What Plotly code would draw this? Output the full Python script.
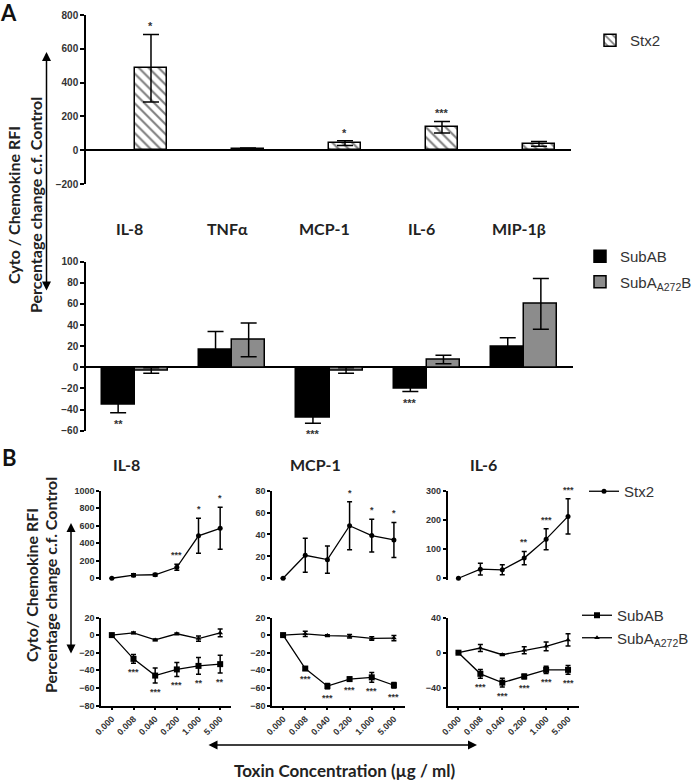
import plotly.graph_objects as go

# ---------------- data ----------------
cytokines = ["IL-8", "TNFα", "MCP-1", "IL-6", "MIP-1β"]
stx2_bar = [485, 8, 42, 136, 38]
stx2_bar_err = [200, 5, 14, 34, 14]
stx2_bar_sig = ["*", "", "*", "***", ""]
subab_bar = [-35, 17, -48, -20, 20]
subab_bar_err = [8, 17, 5, 3, 8]
subab_bar_sig = ["**", "", "***", "***", ""]
a272_bar = [-3, 26, -3, 7.5, 60]
a272_bar_err = [2.5, 16, 2.5, 4, 24]

conc_labels = ["0.000", "0.008", "0.040", "0.200", "1.000", "5.000"]
b_titles = ["IL-8", "MCP-1", "IL-6"]
stx2_line = [
    [0, 35, 40, 125, 485, 570],
    [0, 21, 17, 48, 39, 35],
    [0, 31, 29, 69, 134, 212],
]
stx2_line_err = [
    [0, 15, 15, 35, 200, 240],
    [0, 15.5, 12.5, 22, 15, 16],
    [0, 20, 17, 23, 36, 60],
]
stx2_line_sig = [
    ["", "", "", "***", "*", "*"],
    ["", "", "", "*", "*", "*"],
    ["", "", "", "**", "***", "***"],
]
subab_line = [
    [0, -27, -46, -39, -35, -33],
    [0, -38, -58, -50, -48, -57],
    [0, -24, -34, -27, -19.5, -19.5],
]
subab_line_err = [
    [0, 5, 8.5, 8, 9.5, 10],
    [0, 2, 3, 2, 5.5, 3],
    [0, 5, 5, 2.5, 4, 5],
]
subab_line_sig = [
    ["", "***", "***", "***", "**", "**"],
    ["", "***", "***", "***", "***", "***"],
    ["", "***", "***", "***", "***", "***"],
]
a272_line = [
    [0, 2.5, -5.5, 1.5, -4, 2.5],
    [0, 1.5, -0.5, -1.2, -3.8, -3.4],
    [0, 5.3, -2.3, 2.7, 7.2, 14.5],
]
a272_line_err = [
    [0, 1, 1, 1, 3, 4.5],
    [0, 3, 1, 2, 2, 3],
    [0, 4, 1, 4, 5, 7],
]
b_top_ticks = [[0, 200, 400, 600, 800, 1000], [0, 20, 40, 60, 80], [0, 100, 200, 300]]
b_bot_ticks = [[20, 0, -20, -40, -60, -80], [20, 0, -20, -40, -60, -80], [40, 0, -40]]
b_bot_range = [[-80, 20], [-80, 20], [-60, 40]]

# ---------------- layout helpers ----------------
W, H = 696, 782
def px(x):
    return x / W
def py(y):
    return 1 - y / H

TICKFONT = dict(family="Liberation Sans, Arial", size=10, color="#333", weight="bold")
TICKFONT_B = dict(family="Liberation Sans, Arial", size=9, color="#333", weight="bold")
TITLEFONT = dict(family="Lato, Calibri, sans-serif", size=16, color="#222", weight="bold")
LEGFONT = dict(family="Liberation Sans, Arial", size=15, color="#333")
STARFONT = dict(family="Liberation Sans, Arial", size=11, color="#333", weight="bold")
STARFONT_B = dict(family="Liberation Sans, Arial", size=9, color="#333", weight="bold")

def label(x, y, text, font, **kw):
    d = dict(x=px(x), y=py(y), xref="paper", yref="paper", text=text, showarrow=False,
             xanchor="center", yanchor="middle", font=font)
    d.update(kw)
    return d

fig = go.Figure()
ann = []

# ---------------- Panel A bars ----------------
fig.add_trace(go.Bar(
    x=cytokines, y=stx2_bar, offset=0, width=0.34,
    marker=dict(color="white", line=dict(color="black", width=1.5),
                pattern=dict(shape="\\", fgcolor="black", bgcolor="white", size=7, solidity=0.3)),
    error_y=dict(type="data", array=stx2_bar_err, color="black", thickness=1.5, width=8),
    name="Stx2", xaxis="x", yaxis="y", legend="legend"))

fig.add_trace(go.Bar(
    x=cytokines, y=subab_bar, offset=-0.34, width=0.34,
    marker=dict(color="black", line=dict(color="black", width=1.5)),
    error_y=dict(type="data", array=subab_bar_err, color="black", thickness=1.5, width=8),
    name="SubAB", xaxis="x2", yaxis="y2", legend="legend2", legendgroup="g1"))
fig.add_trace(go.Bar(
    x=cytokines, y=a272_bar, offset=0, width=0.34,
    marker=dict(color="#8c8c8c", line=dict(color="black", width=1.5)),
    error_y=dict(type="data", array=a272_bar_err, color="black", thickness=1.5, width=8),
    name="SubA<sub>A272</sub>B", xaxis="x2", yaxis="y2", legend="legend2", legendgroup="g2"))

for i, c in enumerate(cytokines):
    if stx2_bar_sig[i]:
        ann.append(dict(x=i + 0.17, y=stx2_bar[i] + stx2_bar_err[i], xref="x", yref="y",
                        text=stx2_bar_sig[i], showarrow=False, xanchor="center",
                        yanchor="bottom", yshift=0, font=STARFONT))
    if subab_bar_sig[i]:
        ann.append(dict(x=i - 0.17, y=subab_bar[i] - subab_bar_err[i], xref="x2", yref="y2",
                        text=subab_bar_sig[i], showarrow=False, xanchor="center",
                        yanchor="top", yshift=-3, font=STARFONT))
    ann.append(dict(x=i, y=py(228), xref="x2", yref="paper", text=c, showarrow=False,
                    xanchor="center", yanchor="middle", xshift=-5, font=TITLEFONT))

axis_common = dict(showgrid=False, showline=True, linecolor="black", linewidth=1.5,
                   ticks="outside", tickcolor="black", tickwidth=1.5)

layout = dict(
    width=W, height=H, autosize=False,
    margin=dict(l=0, r=0, t=0, b=0, autoexpand=False),
    paper_bgcolor="white", plot_bgcolor="white",
    bargap=0, showlegend=True,
    xaxis=dict(domain=[px(86), px(571)], anchor="y", type="category", range=[-0.5, 4.5],
               visible=False),
    yaxis=dict(domain=[py(184), py(15)], anchor="x", range=[-200, 800],
               tickvals=[-200, 0, 200, 400, 600, 800], ticklen=4, tickfont=TICKFONT,
               zeroline=True, zerolinecolor="black", zerolinewidth=1.5, **axis_common),
    xaxis2=dict(domain=[px(86), px(573)], anchor="y2", type="category", range=[-0.5, 4.5],
                visible=False),
    yaxis2=dict(domain=[py(430.7), py(261.7)], anchor="x2", range=[-60, 100],
                tickvals=[-60, -40, -20, 0, 20, 40, 60, 80, 100], ticklen=4, tickfont=TICKFONT,
                zeroline=True, zerolinecolor="black", zerolinewidth=1.5, **axis_common),
)

# ---------------- Panel B lines ----------------
col_dom = [(101, 231), (272, 405), (447.5, 579)]
for k in range(3):
    xt = "x%d" % (3 + k)
    yt = "y%d" % (3 + k)
    xb = "x%d" % (6 + k)
    yb = "y%d" % (6 + k)
    mx = max(b_top_ticks[k])
    layout["xaxis%d" % (3 + k)] = dict(domain=[px(col_dom[k][0]), px(col_dom[k][1])], anchor=yt,
                                     type="category", range=[-0.5, 5.5], visible=False)
    layout["yaxis%d" % (3 + k)] = dict(domain=[py(580), py(490.7)], anchor=xt,
                                     range=[-0.02 * mx, mx], tickvals=b_top_ticks[k], ticklen=3,
                                     tickfont=TICKFONT_B, zeroline=False, **axis_common)
    layout["xaxis%d" % (6 + k)] = dict(domain=[px(col_dom[k][0]), px(col_dom[k][1])], anchor=yb,
                                     type="category", range=[-0.5, 5.5], tickangle=-45,
                                     ticklen=3, tickfont=TICKFONT_B, **axis_common)
    layout["yaxis%d" % (6 + k)] = dict(domain=[py(705.5), py(617.5)], anchor=xb,
                                     range=b_bot_range[k], tickvals=b_bot_ticks[k], ticklen=3,
                                     tickfont=TICKFONT_B, zeroline=False, **axis_common)

    fig.add_trace(go.Scatter(
        x=conc_labels, y=stx2_line[k], mode="lines+markers", cliponaxis=False,
        line=dict(color="black", width=1.3), marker=dict(symbol="circle", size=5, color="black"),
        error_y=dict(type="data", array=stx2_line_err[k], color="black", thickness=1.5, width=2.5),
        name="Stx2", xaxis=xt, yaxis=yt, legend="legend3", showlegend=(k == 0)))
    fig.add_trace(go.Scatter(
        x=conc_labels, y=subab_line[k], mode="lines+markers", cliponaxis=False,
        line=dict(color="black", width=1.3), marker=dict(symbol="square", size=6, color="black"),
        error_y=dict(type="data", array=subab_line_err[k], color="black", thickness=1.5, width=2.5),
        name="SubAB", xaxis=xb, yaxis=yb, legend="legend4", showlegend=(k == 0)))
    fig.add_trace(go.Scatter(
        x=conc_labels, y=a272_line[k], mode="lines+markers", cliponaxis=False,
        line=dict(color="black", width=1.3), marker=dict(symbol="triangle-up", size=5, color="black"),
        error_y=dict(type="data", array=a272_line_err[k], color="black", thickness=1.5, width=2.5),
        name="SubA<sub>A272</sub>B", xaxis=xb, yaxis=yb, legend="legend4", showlegend=(k == 0)))

    for i, c in enumerate(conc_labels):
        if stx2_line_sig[k][i]:
            ann.append(dict(x=i, y=stx2_line[k][i] + stx2_line_err[k][i], xref=xt, yref=yt,
                            text=stx2_line_sig[k][i], showarrow=False, xanchor="center",
                            yanchor="bottom", yshift=2, font=STARFONT_B))
        if subab_line_sig[k][i]:
            ann.append(dict(x=i, y=subab_line[k][i] - subab_line_err[k][i], xref=xb, yref=yb,
                            text=subab_line_sig[k][i], showarrow=False, xanchor="center",
                            yanchor="top", yshift=-2, font=STARFONT_B))

for t, xx in zip(b_titles, [126, 315, 483]):
    ann.append(label(xx, 464, t, TITLEFONT))

# panel letters
LETTERFONT = dict(family="Lato, Calibri, sans-serif", size=22, color="#111", weight="bold")
ann.append(label(8, 12, "A", LETTERFONT))
ann.append(label(9, 457, "B", LETTERFONT))

# y titles
for (x1, x2, yc, txt1) in [(13, 35, 205, "Cyto / Chemokine RFI"), (31, 50, 585, "Cyto/ Chemokine RFI")]:
    ann.append(label(x1, yc, txt1, TITLEFONT, textangle=-90))
    ann.append(label(x2, yc, "Percentage change c.f. Control", TITLEFONT, textangle=-90))

ann.append(label(344, 770, "Toxin Concentration (µg / ml)",
                 dict(family="Lato, Calibri, sans-serif", size=17, color="#222", weight="bold")))

# arrows
arrow_style = dict(showarrow=True, arrowhead=2, arrowside="end+start", arrowsize=1.2,
                   arrowwidth=1.5, arrowcolor="black", text="", xref="paper", yref="paper")
ann.append(dict(x=px(46.5), y=py(52), ax=0, ay=240, **arrow_style))
ann.append(dict(x=px(71), y=py(523), ax=0, ay=132, **arrow_style))
ann.append(dict(x=px(477), y=py(745), ax=-270, ay=0, **arrow_style))

layout["annotations"] = ann
layout["legend"] = dict(x=px(590), y=py(24), xanchor="left", yanchor="top", font=LEGFONT,
                        bgcolor="rgba(0,0,0,0)")
layout["legend2"] = dict(x=px(580), y=py(240), xanchor="left", yanchor="top", font=LEGFONT,
                         bgcolor="rgba(0,0,0,0)", traceorder="grouped", tracegroupgap=3)
layout["legend3"] = dict(x=px(584), y=py(475), xanchor="left", yanchor="top", font=LEGFONT,
                         bgcolor="rgba(0,0,0,0)")
layout["legend4"] = dict(x=px(577), y=py(599), xanchor="left", yanchor="top", font=LEGFONT,
                         bgcolor="rgba(0,0,0,0)")

fig.update_layout(**layout)
fig.write_html("out.html", config={"displayModeBar": False},
               post_script="document.body.style.margin='0px';document.body.style.overflow='hidden';")
